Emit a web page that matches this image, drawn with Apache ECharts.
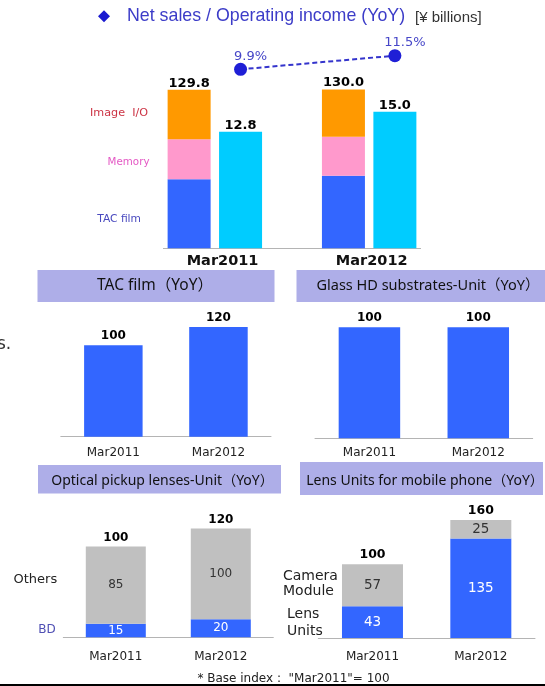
<!DOCTYPE html>
<html>
<head>
<meta charset="utf-8">
<script src="https://cdn.jsdelivr.net/npm/echarts@6/dist/echarts.min.js"></script>
<style>
  html, body { margin: 0; padding: 0; background: #fff; }
  #chart { width: 545px; height: 686px; }
</style>
</head>
<body>
<div id="chart"></div>
<script>
// Fiscal years shown in every panel
const years = ['Mar2011', 'Mar2012'];

// Net sales breakdown (¥ billions)
const tacFilmSales = [56.5, 59.5];
const memorySales = [32.8, 31.9];
const imageIoSales = [40.5, 38.6];
// Operating income (¥ billions) and operating margin (%)
const operatingIncome = [12.8, 15.0];
const operatingMargin = [9.9, 11.5];

// Volume indices, Mar2011 = 100
const tacFilmIndex = [100, 120];
const glassHdIndex = [100, 100];
const pickupBd = [15, 20];
const pickupOthers = [85, 100];
const lensUnits = [43, 135];
const cameraModules = [57, 25];

const BLUE = '#3366ff';
const GRAY = '#c0c0c0';
const AXIS_GRAY = '#b4b4b4';
const BANNER = '#aeaee8';
const FONT = "'DejaVu Sans', sans-serif";
const BANNER_FONT = "'Noto Sans', 'Noto Sans CJK JP', sans-serif";

// Top panel uses five slots: sales, income, gap, sales, income
const salesSlot = (arr) => [arr[0], null, null, arr[1], null];
const incomeSlot = (arr) => [null, arr[0], null, null, arr[1]];
const slotNames = ['sales 2011', 'income 2011', '', 'sales 2012', 'income 2012'];
const salesTotals = tacFilmSales.map((v, i) => v + memorySales[i] + imageIoSales[i]);

const chart = echarts.init(document.getElementById('chart'), null, { renderer: 'canvas' });

function smallAxis(grid, margin) {
  return {
    type: 'category', gridIndex: grid, data: years,
    axisLine: { lineStyle: { color: AXIS_GRAY } },
    axisTick: { inside: true, length: 4, lineStyle: { color: AXIS_GRAY } },
    axisLabel: { color: '#222', fontSize: 12, fontFamily: FONT, margin: margin }
  };
}
function hiddenY(grid, max) {
  return { type: 'value', gridIndex: grid, min: 0, max: max, show: false };
}
const boldTop = (size, dist) => ({
  show: true, position: 'top', distance: dist, color: '#000',
  fontSize: size, fontWeight: 'bold', fontFamily: FONT
});
const inside = (color, size) => ({
  show: true, position: 'inside', color: color, fontSize: size, fontFamily: FONT
});
const txt = (text, x, y, fill, font, align) => ({
  type: 'text',
  style: { text: text, x: x, y: y, fill: fill, font: font,
    align: align || 'left', textAlign: align || 'left',
    verticalAlign: 'middle', textVerticalAlign: 'middle' }
});

const option = {
  backgroundColor: '#fff',
  animation: false,
  grid: [
    { left: 163.4, right: 124.4, top: 20, height: 228.3, outerBoundsMode: 'none' },
    { left: 60.8, right: 274, top: 317.9, height: 118.8, outerBoundsMode: 'none' },
    { left: 315, right: 12.3, top: 316.2, height: 122.1, outerBoundsMode: 'none' },
    { left: 63.3, right: 271.7, top: 519.4, height: 117.9, outerBoundsMode: 'none' },
    { left: 318.3, right: 10, top: 512.6, height: 125.4, outerBoundsMode: 'none' }
  ],
  xAxis: [
    // 0: top panel slots (sales bars, margin line)
    {
      type: 'category', gridIndex: 0, data: slotNames,
      axisLine: { lineStyle: { color: AXIS_GRAY } },
      axisTick: { inside: true, length: 4, lineStyle: { color: AXIS_GRAY } },
      axisLabel: { show: false }
    },
    // 1: year captions under each pair of bars
    {
      type: 'value', gridIndex: 0, min: 0, max: 100, interval: 1, position: 'bottom',
      axisLine: { show: false }, axisTick: { show: false }, splitLine: { show: false },
      axisLabel: {
        color: '#111', fontSize: 14.5, fontWeight: 'bold', fontFamily: FONT, margin: 5,
        formatter: (v) => { const r = Math.round(v); return r === 23 ? years[0] : r === 81 ? years[1] : ''; }
      }
    },
    // 2: top panel slots for operating income bars
    { type: 'category', gridIndex: 0, data: slotNames, show: false },
    smallAxis(1, 10),
    smallAxis(2, 9),
    smallAxis(3, 14),
    smallAxis(4, 13)
  ],
  yAxis: [
    hiddenY(0, 187),
    hiddenY(0, 25.09),
    { type: 'value', gridIndex: 0, min: -11.16, max: 15.7, show: false },
    hiddenY(1, 130),
    hiddenY(2, 110),
    hiddenY(3, 130),
    hiddenY(4, 170)
  ],
  series: [
    // Net sales by segment
    { name: 'TAC film', type: 'bar', stack: 'sales', xAxisIndex: 0, yAxisIndex: 0,
      barWidth: 43, data: salesSlot(tacFilmSales), itemStyle: { color: BLUE } },
    { name: 'Memory', type: 'bar', stack: 'sales', xAxisIndex: 0, yAxisIndex: 0,
      barWidth: 43, data: salesSlot(memorySales), itemStyle: { color: '#ff99cc' } },
    { name: 'Image I/O', type: 'bar', stack: 'sales', xAxisIndex: 0, yAxisIndex: 0,
      barWidth: 43, data: salesSlot(imageIoSales), itemStyle: { color: '#ff9900' },
      label: Object.assign(boldTop(13, 0), {
        formatter: (p) => salesTotals[p.dataIndex === 0 ? 0 : 1].toFixed(1)
      }) },
    // Operating income
    { name: 'Operating income', type: 'bar', xAxisIndex: 2, yAxisIndex: 1,
      barWidth: 43, data: incomeSlot(operatingIncome), itemStyle: { color: '#00ccff' },
      label: Object.assign(boldTop(13, 0), { formatter: (p) => p.value.toFixed(1) }) },
    // Operating margin
    { name: 'Operating margin', type: 'line', xAxisIndex: 0, yAxisIndex: 2,
      data: incomeSlot(operatingMargin), connectNulls: true,
      symbol: 'circle', symbolSize: 13, itemStyle: { color: '#1f1fd6' },
      lineStyle: { color: '#3434cc', width: 2, type: [5, 3] },
      label: { show: true, position: 'top', distance: 0, offset: [10, 0],
        color: '#4646c8', fontSize: 13, fontFamily: FONT, formatter: (p) => p.value.toFixed(1) + '%' } },

    // TAC film index
    { name: 'TAC film index', type: 'bar', xAxisIndex: 3, yAxisIndex: 3, barWidth: 58.5,
      data: tacFilmIndex, itemStyle: { color: BLUE }, label: boldTop(12, 3) },
    // Glass HD substrates index
    { name: 'Glass HD index', type: 'bar', xAxisIndex: 4, yAxisIndex: 4, barWidth: 61.5,
      data: glassHdIndex, itemStyle: { color: BLUE }, label: boldTop(12, 3) },
    // Optical pickup lenses index
    { name: 'BD', type: 'bar', stack: 'pickup', xAxisIndex: 5, yAxisIndex: 5, barWidth: 60,
      data: pickupBd, itemStyle: { color: BLUE }, label: inside('#fff', 12) },
    { name: 'Others', type: 'bar', stack: 'pickup', xAxisIndex: 5, yAxisIndex: 5, barWidth: 60,
      data: pickupOthers, itemStyle: { color: GRAY }, label: inside('#333', 12) },
    { name: 'Pickup total', type: 'bar', stack: 'pickup', xAxisIndex: 5, yAxisIndex: 5, barWidth: 60,
      data: [0, 0], itemStyle: { color: 'transparent' },
      label: Object.assign(boldTop(12, 2.5), { formatter: (p) => String(pickupBd[p.dataIndex] + pickupOthers[p.dataIndex]) }) },
    // Lens units for mobile phones index
    { name: 'Lens Units', type: 'bar', stack: 'lens', xAxisIndex: 6, yAxisIndex: 6, barWidth: 61,
      data: lensUnits, itemStyle: { color: BLUE }, label: inside('#fff', 13.5) },
    { name: 'Camera Module', type: 'bar', stack: 'lens', xAxisIndex: 6, yAxisIndex: 6, barWidth: 61,
      data: cameraModules, itemStyle: { color: GRAY }, label: inside('#333', 13.5) },
    { name: 'Lens total', type: 'bar', stack: 'lens', xAxisIndex: 6, yAxisIndex: 6, barWidth: 61,
      data: [0, 0], itemStyle: { color: 'transparent' },
      label: Object.assign(boldTop(12.5, 2.5), { formatter: (p) => String(lensUnits[p.dataIndex] + cameraModules[p.dataIndex]) }) }
  ],
  graphic: [
    // heading of the top panel
    { type: 'polygon', shape: { points: [[104, 10.3], [110, 16.3], [104, 22.3], [98, 16.3]] },
      style: { fill: '#1a1ad0' } },
    txt('Net sales / Operating income (YoY)', 127, 16.5, '#3c3cc8', "17.8px 'Liberation Sans', Arial, sans-serif"),
    txt('[¥ billions]', 415, 17.5, '#333', "15px 'Liberation Sans', Arial, sans-serif"),
    // segment captions
    txt('Image  I/O', 148, 113, '#cc3344', "11.2px " + FONT, 'right'),
    txt('Memory', 149.5, 162.7, '#e458c4', "10.3px " + FONT, 'right'),
    txt('TAC film', 141, 219.3, '#4a4abf', "10.7px " + FONT, 'right'),

    // panel banners
    { type: 'rect', shape: { x: 37.5, y: 270, width: 237, height: 32 }, style: { fill: BANNER } },
    { type: 'rect', shape: { x: 296.5, y: 270, width: 249, height: 32 }, style: { fill: BANNER } },
    { type: 'rect', shape: { x: 38, y: 465, width: 243, height: 28.5 }, style: { fill: BANNER } },
    { type: 'rect', shape: { x: 300, y: 462, width: 243, height: 33 }, style: { fill: BANNER } },
    txt('TAC film（YoY）', 155, 286, '#111', "15.5px " + BANNER_FONT, 'center'),
    txt('Glass HD substrates-Unit（YoY）', 428, 286, '#111', "14.5px " + BANNER_FONT, 'center'),
    txt('Optical pickup lenses-Unit（YoY）', 162.5, 481, '#111', "14px " + BANNER_FONT, 'center'),
    txt('Lens Units for mobile phone（YoY）', 425, 481, '#111', "14px " + BANNER_FONT, 'center'),

    // stack captions in the lower panels
    txt('Others', 13.5, 579.3, '#222', "13px " + FONT),
    txt('BD', 38.3, 630, '#5050b4', "12px " + FONT),
    txt('Camera', 283, 576.7, '#222', "14px " + FONT),
    txt('Module', 283, 591.7, '#222', "14px " + FONT),
    txt('Lens', 287, 614, '#222', "14px " + FONT),
    txt('Units', 287, 631.7, '#222', "14px " + FONT),

    // text clipped at the left edge of the slide
    txt('s.', -3, 345, '#333', "17px " + FONT),

    // footnote and slide rule
    txt('* Base index :  "Mar2011"= 100', 293.5, 679, '#222', "12px " + FONT, 'center'),
    { type: 'rect', shape: { x: 0, y: 684, width: 545, height: 2 }, style: { fill: '#000' } }
  ]
};

chart.setOption(option);
</script>
</body>
</html>
